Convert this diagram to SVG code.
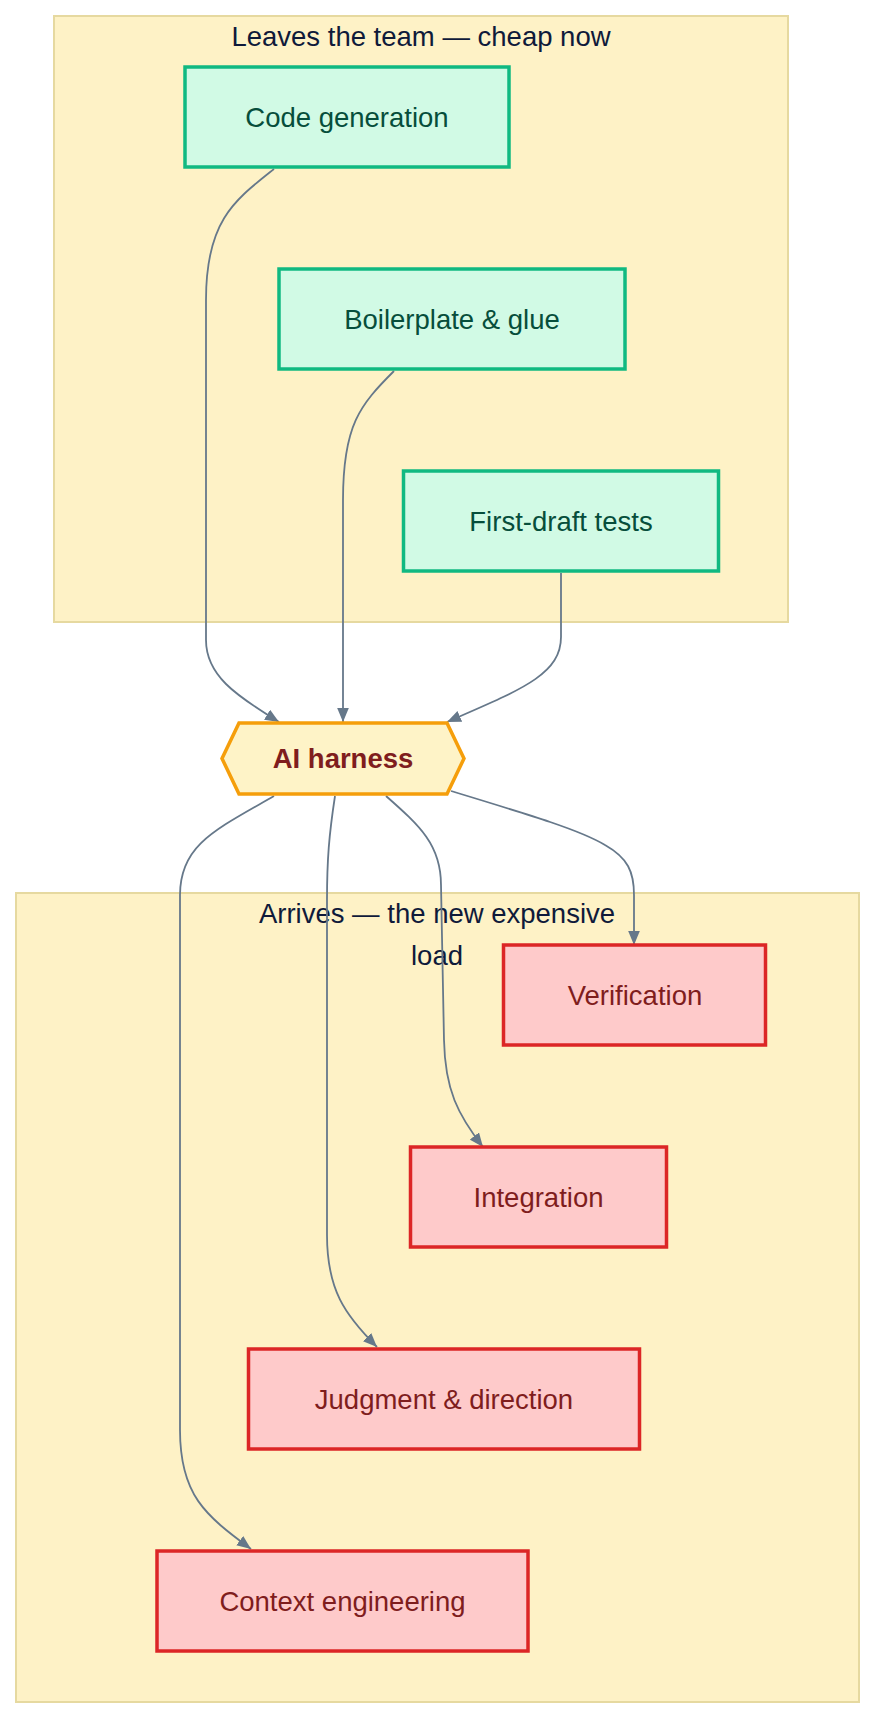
<svg xmlns="http://www.w3.org/2000/svg" width="876" height="1718" viewBox="0 0 876 1718">
<style>
  text { font-family: "Liberation Sans", Arial, sans-serif; font-size: 27.5px; text-anchor: middle; }
  .cluster rect { fill: #fef2c6; stroke: #e6d9a0; stroke-width: 2; }
  .cluster text { fill: #0f1a3a; }
  .green rect { fill: #d1fae5; stroke: #10b981; stroke-width: 3.5; }
  .green text { fill: #064e3b; }
  .red rect { fill: #fecaca; stroke: #dc2626; stroke-width: 3.5; }
  .red text { fill: #7f1d1d; }
  .hub polygon { fill: #fef3c7; stroke: #f59e0b; stroke-width: 3.5; }
  .hub text { fill: #7f1d1d; font-weight: bold; }
  .edges path { fill: none; stroke: #66788a; stroke-width: 1.8; }
  .arrowhead { fill: #66788a; }
</style>
<defs>
  <marker id="arr" viewBox="0 0 12 10" refX="12" refY="5" markerWidth="14" markerHeight="12" markerUnits="userSpaceOnUse" orient="auto">
    <path class="arrowhead" d="M0,0 L12,5 L0,10 z"/>
  </marker>
</defs>

<g id="cluster-leaves" class="cluster">
  <rect x="54" y="16" width="734" height="606"/>
  <text x="421" y="46">Leaves the team — cheap now</text>
</g>
<g id="cluster-arrives" class="cluster">
  <rect x="16" y="893" width="843" height="809"/>
  <text x="437" y="923">Arrives — the new expensive</text>
  <text x="437" y="965">load</text>
</g>

<g id="edges" class="edges">
  <path marker-end="url(#arr)" d="M274,169 C235,200 206,220 206,300 L206,640 C206,675 235,695 279,722"/>
  <path marker-end="url(#arr)" d="M394,371 C360,405 343,425 343,500 L343,722"/>
  <path marker-end="url(#arr)" d="M561,573 L561,637 C561,675 520,690 447,722"/>
  <path marker-end="url(#arr)" d="M274,796 C215,830 180,845 180,895 L180,1430 C180,1495 205,1515 251,1549"/>
  <path marker-end="url(#arr)" d="M335,796 C329,835 327,860 327,900 L327,1235 C327,1290 345,1315 377,1347"/>
  <path marker-end="url(#arr)" d="M386,796 C420,826 441,845 441,885 L444,1040 C445,1090 458,1115 483,1147"/>
  <path marker-end="url(#arr)" d="M451,791 C530,815 580,830 605,845 C628,858 634,872 634,895 L634,945"/>
</g>

<g id="node-codegen" class="green">
  <rect x="185" y="67" width="324" height="100"/>
  <text x="347" y="127">Code generation</text>
</g>
<g id="node-boilerplate" class="green">
  <rect x="279" y="269" width="346" height="100"/>
  <text x="452" y="329">Boilerplate &amp; glue</text>
</g>
<g id="node-tests" class="green">
  <rect x="403.5" y="471" width="315" height="100"/>
  <text x="561" y="531">First-draft tests</text>
</g>

<g id="node-harness" class="hub">
  <polygon points="239,723 447,723 464,758.5 447,794 239,794 222,758.5"/>
  <text x="343" y="768">AI harness</text>
</g>

<g id="node-verification" class="red">
  <rect x="503.5" y="945" width="262" height="100"/>
  <text x="635" y="1005">Verification</text>
</g>
<g id="node-integration" class="red">
  <rect x="410.5" y="1147" width="256" height="100"/>
  <text x="538.5" y="1207">Integration</text>
</g>
<g id="node-judgment" class="red">
  <rect x="248.5" y="1349" width="391" height="100"/>
  <text x="444" y="1409">Judgment &amp; direction</text>
</g>
<g id="node-context" class="red">
  <rect x="157" y="1551" width="371" height="100"/>
  <text x="342.5" y="1611">Context engineering</text>
</g>
</svg>
